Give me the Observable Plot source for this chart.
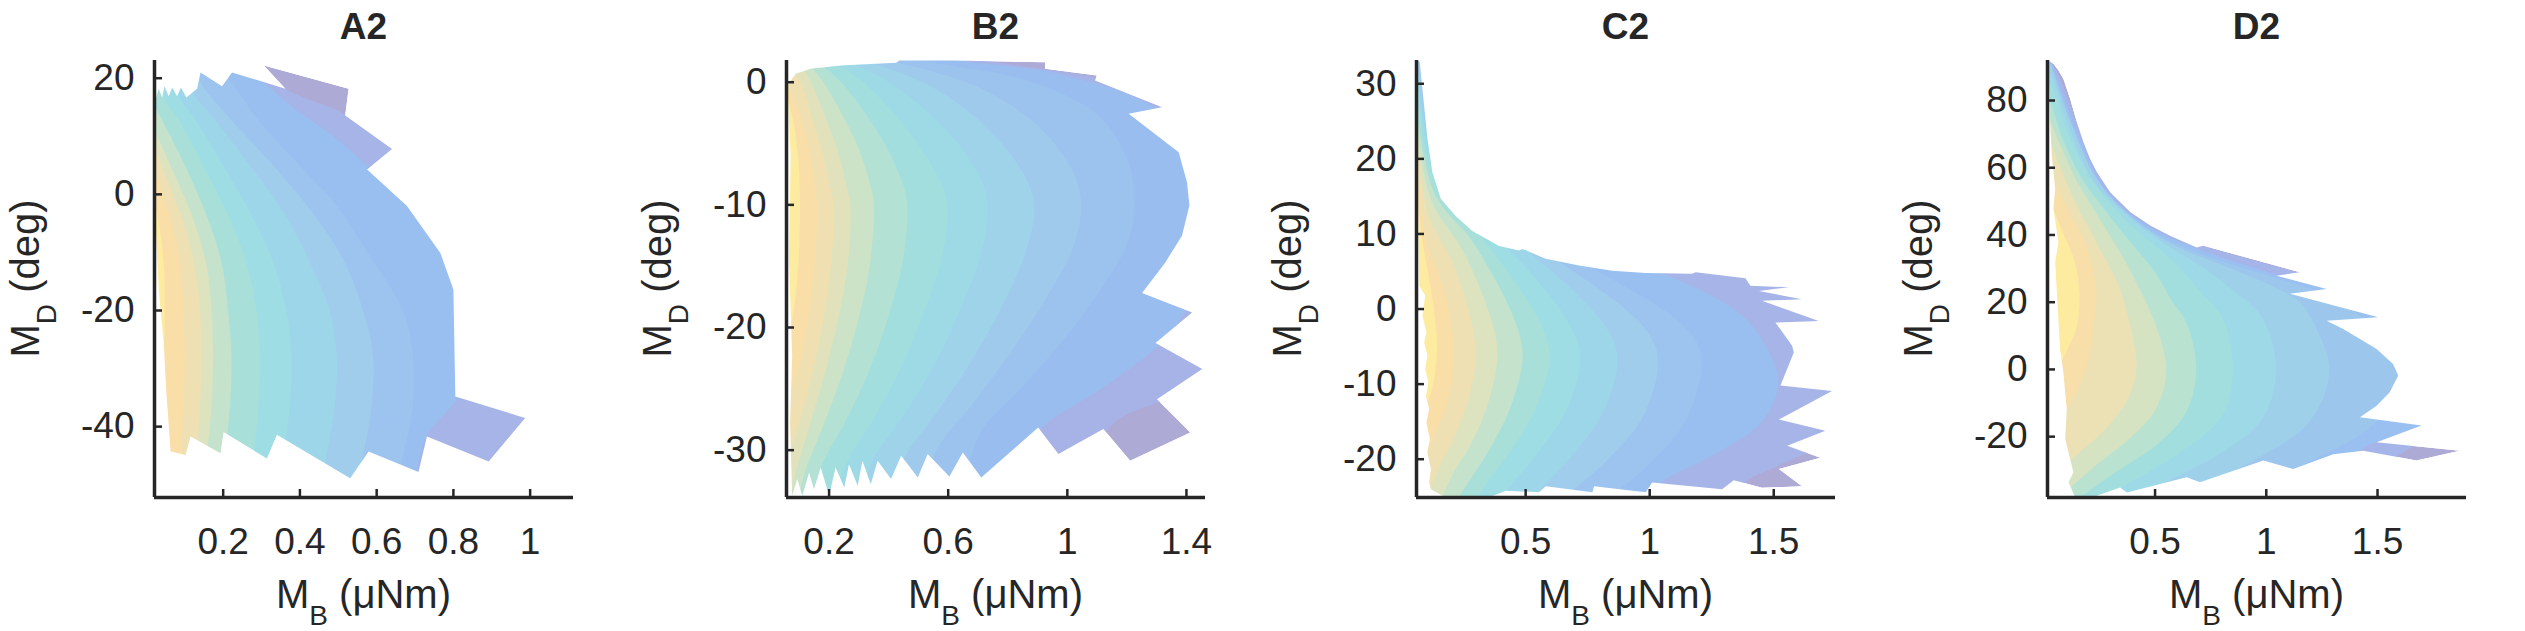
<!DOCTYPE html>
<html><head><meta charset="utf-8">
<script src="https://cdn.jsdelivr.net/npm/d3@7"></script>
<script src="https://cdn.jsdelivr.net/npm/@observablehq/plot@0.6"></script>
<style>
html,body{margin:0;padding:0;background:#fff;}
#wrap{position:relative;width:2525px;height:631px;overflow:hidden;font-family:"Liberation Sans",Arial,sans-serif;}
#wrap > svg{position:absolute;top:0;}
</style></head><body><div id="wrap"></div>
<script>
// ---------------- DATA (M_B in µNm, M_D in deg) ----------------
const titles = ["A2", "B2", "C2", "D2"];

const A2_xDomain = [0.021, 1.113], A2_yDomain = [-52.2, 23.05];
const A2_xTicks = [0.2, 0.4, 0.6, 0.8, 1], A2_yTicks = [-40, -20, 0, 20];
const A2_outline = [[0.022,15.9],[0.032,18.2],[0.041,16.7],[0.047,18.6],[0.058,16.9],[0.067,18.4],[0.080,16.9],[0.090,18.4],[0.104,16.7],[0.132,18.2],[0.141,21.0],[0.197,18.6],[0.223,21.0],[0.362,18.2],[0.306,22.2],[0.527,18.2],[0.518,13.6],[0.640,7.8],[0.575,4.3],[0.679,-2.0],[0.766,-10.1],[0.800,-16.4],[0.805,-34.8],[0.987,-38.5],[0.892,-46.0],[0.731,-41.7],[0.709,-47.8],[0.579,-44.3],[0.531,-48.9],[0.340,-41.4],[0.314,-45.5],[0.201,-40.9],[0.193,-44.6],[0.115,-41.7],[0.102,-44.9],[0.063,-44.3],[0.052,-34.2],[0.045,-25.6],[0.032,-16.4],[0.022,-2.6]];
const A2_contours = [
 [[0.271,23.9],[0.362,18.2],[0.523,13.6],[0.670,6.6],[0.809,-4.9],[0.896,-22.1],[0.965,-33.7],[1.026,-39.4],[1.026,-53.2]],
 [[0.227,23.9],[0.375,15.3],[0.497,9.5],[0.583,4.3],[0.692,-3.1],[0.818,-16.4],[0.822,-33.7],[0.731,-41.7],[0.705,-48.0],[0.688,-53.2]],
 [[0.175,23.9],[0.210,20.5],[0.297,12.4],[0.401,4.9],[0.497,-2.0],[0.583,-10.6],[0.670,-20.1],[0.696,-27.9],[0.696,-36.5],[0.670,-45.2],[0.644,-53.2]],
 [[0.115,23.9],[0.141,19.3],[0.227,12.4],[0.332,4.9],[0.427,-2.6],[0.514,-11.2],[0.566,-20.1],[0.592,-27.9],[0.588,-36.5],[0.566,-45.2],[0.540,-53.2]],
 [[0.089,23.9],[0.115,18.2],[0.184,12.4],[0.271,4.9],[0.358,-3.1],[0.427,-11.8],[0.479,-20.1],[0.497,-27.9],[0.492,-36.5],[0.470,-45.2],[0.444,-53.2]],
 [[0.063,23.9],[0.080,17.6],[0.132,12.4],[0.201,4.9],[0.271,-3.1],[0.332,-11.8],[0.366,-20.1],[0.379,-27.9],[0.375,-36.5],[0.358,-45.2],[0.340,-53.2]],
 [[0.036,23.9],[0.045,17.0],[0.089,12.4],[0.149,4.9],[0.210,-3.1],[0.262,-11.8],[0.288,-20.1],[0.297,-27.9],[0.293,-36.5],[0.280,-45.2],[0.262,-53.2]],
 [[0.021,15.3],[0.054,11.2],[0.106,4.3],[0.158,-3.7],[0.197,-11.8],[0.214,-20.1],[0.223,-27.9],[0.219,-36.5],[0.206,-45.2],[0.193,-53.2]],
 [[0.021,11.2],[0.071,3.8],[0.123,-4.3],[0.158,-12.4],[0.171,-20.1],[0.175,-27.9],[0.171,-36.5],[0.158,-45.2],[0.149,-53.2]],
 [[0.021,8.9],[0.054,2.6],[0.097,-4.9],[0.128,-12.9],[0.141,-20.1],[0.145,-27.9],[0.141,-36.5],[0.132,-45.2],[0.123,-53.2]],
 [[0.021,5.5],[0.045,-0.3],[0.076,-7.2],[0.093,-14.1],[0.097,-20.1],[0.102,-27.9],[0.097,-36.5],[0.093,-45.2],[0.089,-53.2]],
 [[0.021,-0.3],[0.036,-6.0],[0.047,-12.9],[0.049,-20.1],[0.047,-26.7],[0.036,-32.5],[0.021,-37.1]]
];

const B2_xDomain = [0.057, 1.464], B2_yDomain = [-33.86, 1.77];
const B2_xTicks = [0.2, 0.6, 1, 1.4], B2_yTicks = [-30, -20, -10, 0];
const B2_outline = [[0.060,-0.27],[0.088,0.68],[0.138,1.09],[0.239,1.36],[0.425,1.58],[0.436,1.77],[0.616,1.77],[0.925,1.63],[0.925,1.09],[1.099,0.54],[1.093,0.14],[1.318,-2.04],[1.206,-2.58],[1.374,-5.71],[1.402,-8.16],[1.410,-10.06],[1.385,-12.51],[1.329,-14.69],[1.251,-17.19],[1.419,-18.77],[1.296,-21.27],[1.453,-23.39],[1.301,-25.84],[1.413,-28.56],[1.211,-30.87],[1.121,-28.28],[0.970,-30.32],[0.902,-28.15],[0.711,-32.23],[0.649,-30.19],[0.604,-32.15],[0.531,-30.32],[0.498,-32.23],[0.442,-30.46],[0.408,-32.36],[0.363,-30.87],[0.340,-32.77],[0.312,-30.87],[0.296,-32.91],[0.267,-31.14],[0.251,-33.04],[0.222,-31.41],[0.200,-33.72],[0.172,-31.41],[0.149,-33.18],[0.133,-31.82],[0.110,-33.72],[0.093,-32.36],[0.076,-33.72],[0.069,-27.74],[0.076,-22.30],[0.065,-14.14],[0.071,-5.98]];
const B2_contours = [
 [[0.576,2.18],[0.824,1.36],[1.104,0.27],[1.442,-2.45],[1.554,-11.42],[1.543,-22.30],[1.385,-25.29],[1.161,-27.74],[1.093,-30.46],[1.071,-34.27]],
 [[0.487,2.18],[0.711,1.50],[0.992,0.54],[1.329,-2.72],[1.464,-8.70],[1.464,-15.50],[1.329,-20.94],[1.116,-25.02],[0.925,-28.01],[0.824,-31.00],[0.779,-34.27]],
 [[0.374,2.18],[0.599,1.36],[0.880,0.00],[1.104,-2.72],[1.206,-6.53],[1.228,-10.06],[1.206,-13.05],[1.116,-16.86],[0.992,-20.94],[0.846,-25.02],[0.711,-28.56],[0.644,-34.27]],
 [[0.296,2.18],[0.487,1.22],[0.711,-0.54],[0.913,-3.81],[1.026,-7.62],[1.048,-10.06],[1.024,-13.33],[0.930,-17.68],[0.812,-22.03],[0.689,-26.11],[0.565,-29.92],[0.509,-34.27]],
 [[0.239,2.18],[0.397,1.09],[0.576,-0.82],[0.745,-4.08],[0.857,-7.62],[0.891,-10.06],[0.866,-13.60],[0.784,-18.22],[0.678,-22.84],[0.565,-26.92],[0.453,-30.73],[0.408,-34.27]],
 [[0.194,2.18],[0.318,1.09],[0.464,-1.09],[0.610,-4.35],[0.711,-7.89],[0.734,-10.06],[0.714,-13.87],[0.644,-18.49],[0.554,-23.12],[0.453,-27.20],[0.346,-31.00],[0.307,-34.27]],
 [[0.149,2.18],[0.262,0.95],[0.374,-1.36],[0.487,-4.62],[0.576,-8.16],[0.599,-10.06],[0.582,-14.14],[0.520,-18.77],[0.442,-23.39],[0.352,-27.47],[0.256,-31.28],[0.217,-34.27]],
 [[0.116,2.18],[0.206,0.82],[0.296,-1.63],[0.385,-4.90],[0.447,-8.16],[0.464,-10.06],[0.451,-14.41],[0.402,-19.04],[0.335,-23.66],[0.256,-27.74],[0.172,-31.55],[0.144,-34.27]],
 [[0.088,2.18],[0.161,0.68],[0.228,-1.90],[0.296,-5.17],[0.340,-8.43],[0.352,-10.06],[0.340,-14.69],[0.301,-19.31],[0.245,-23.93],[0.183,-28.01],[0.121,-31.82],[0.099,-34.27]],
 [[0.071,2.18],[0.127,0.54],[0.178,-2.18],[0.228,-5.44],[0.262,-8.70],[0.273,-10.06],[0.264,-14.96],[0.230,-19.58],[0.183,-24.20],[0.133,-28.28],[0.088,-32.09],[0.071,-34.27]],
 [[0.060,1.09],[0.099,0.27],[0.138,-2.45],[0.178,-5.71],[0.206,-8.70],[0.217,-10.06],[0.208,-14.96],[0.181,-19.58],[0.144,-23.93],[0.099,-28.01],[0.060,-31.00]],
 [[0.060,0.00],[0.104,-2.72],[0.138,-5.98],[0.155,-8.70],[0.161,-10.06],[0.154,-14.69],[0.133,-19.04],[0.104,-22.84],[0.060,-26.65]],
 [[0.060,-1.09],[0.082,-3.26],[0.099,-6.53],[0.104,-10.06],[0.099,-14.69],[0.084,-18.49],[0.060,-21.76]]
];

const C2_xDomain = [0.06, 1.749], C2_yDomain = [-25.1, 33.1];
const C2_xTicks = [0.5, 1, 1.5], C2_yTicks = [-20, -10, 0, 10, 20, 30];
const C2_outline = [[0.064,33.1],[0.073,32.9],[0.084,29.3],[0.104,22.7],[0.124,18.2],[0.158,14.7],[0.218,12.4],[0.285,10.4],[0.393,8.4],[0.473,7.8],[0.487,8.0],[0.581,6.7],[0.715,5.8],[0.849,5.1],[0.984,4.8],[1.171,4.7],[1.185,4.9],[1.386,4.1],[1.406,3.1],[1.561,2.9],[1.440,2.4],[1.614,1.3],[1.453,1.1],[1.681,-1.6],[1.507,-1.8],[1.574,-4.9],[1.581,-5.8],[1.527,-10.2],[1.735,-10.9],[1.521,-14.7],[1.708,-16.2],[1.554,-18.2],[1.688,-19.8],[1.521,-21.3],[1.614,-23.6],[1.453,-23.8],[1.339,-22.8],[1.292,-24.0],[1.010,-23.1],[0.984,-24.4],[0.776,-23.6],[0.769,-24.4],[0.581,-23.6],[0.554,-24.4],[0.420,-24.2],[0.366,-24.9],[0.292,-24.9],[0.178,-25.1],[0.118,-24.0],[0.111,-23.1],[0.118,-21.3],[0.104,-19.1],[0.114,-17.3],[0.100,-15.1],[0.111,-13.3],[0.098,-11.6],[0.108,-9.8],[0.095,-8.0],[0.104,-6.2],[0.091,-4.4],[0.100,-3.1],[0.084,-0.9],[0.095,1.8],[0.071,3.1],[0.066,16.0],[0.062,29.3]];
const C2_contours = [
 [[0.178,33.8],[0.581,8.9],[1.386,5.3],[1.722,2.7],[1.789,-10.7],[1.722,-17.3],[1.521,-20.9],[1.386,-23.1],[1.319,-25.8]],
 [[0.124,33.8],[0.339,10.7],[1.051,4.7],[1.373,-0.9],[1.467,-4.9],[1.521,-9.8],[1.453,-15.1],[1.252,-19.6],[1.051,-23.1],[0.984,-25.8]],
 [[0.084,33.8],[0.259,12.4],[0.796,4.9],[1.198,-4.9],[1.158,-14.2],[1.010,-20.4],[0.849,-24.9],[0.809,-25.8]],
 [[0.071,33.8],[0.218,13.8],[0.648,6.0],[1.024,-4.9],[0.984,-13.8],[0.836,-20.0],[0.688,-24.4],[0.648,-25.8]],
 [[0.064,32.0],[0.192,14.7],[0.514,7.6],[0.863,-4.9],[0.822,-13.3],[0.688,-19.6],[0.554,-24.4],[0.514,-25.8]],
 [[0.064,30.2],[0.171,15.1],[0.420,8.4],[0.715,-4.9],[0.675,-12.9],[0.554,-19.1],[0.433,-24.0],[0.393,-25.8]],
 [[0.064,28.0],[0.151,15.6],[0.339,8.9],[0.594,-4.9],[0.554,-12.4],[0.447,-18.7],[0.339,-23.6],[0.299,-25.8]],
 [[0.064,25.8],[0.138,15.1],[0.299,8.4],[0.487,-4.9],[0.453,-12.0],[0.366,-18.2],[0.272,-23.1],[0.218,-25.8]],
 [[0.064,23.6],[0.124,14.2],[0.259,7.1],[0.386,-4.9],[0.359,-11.6],[0.285,-17.8],[0.205,-22.2],[0.158,-25.8]],
 [[0.064,21.3],[0.111,12.4],[0.218,5.3],[0.299,-4.9],[0.279,-11.1],[0.218,-16.9],[0.151,-21.3],[0.104,-25.3]],
 [[0.064,19.1],[0.104,8.9],[0.171,2.7],[0.212,-4.9],[0.198,-10.7],[0.151,-15.6],[0.098,-19.6],[0.064,-21.8]],
 [[0.064,15.1],[0.091,8.0],[0.124,1.8],[0.145,-4.9],[0.131,-9.8],[0.098,-13.3],[0.064,-16.0]]
];

const D2_xDomain = [0.0165, 1.90], D2_yDomain = [-38.1, 91.9];
const D2_xTicks = [0.5, 1, 1.5], D2_yTicks = [-20, 0, 20, 40, 60, 80];
const D2_outline = [[0.021,91.9],[0.043,90.9],[0.066,88.9],[0.088,86.4],[0.118,80.5],[0.148,73.6],[0.178,67.6],[0.208,62.6],[0.238,58.7],[0.298,52.7],[0.388,46.8],[0.478,42.8],[0.567,39.8],[0.687,36.3],[0.717,36.8],[1.151,28.9],[1.046,27.9],[1.271,23.9],[1.106,22.5],[1.503,15.5],[1.271,14.5],[1.346,12.0],[1.496,6.1],[1.570,1.6],[1.593,-1.8],[1.555,-6.8],[1.496,-10.8],[1.421,-14.2],[1.698,-16.7],[1.496,-21.7],[1.870,-24.2],[1.675,-27.1],[1.436,-24.2],[1.301,-25.2],[1.121,-29.6],[0.987,-27.1],[0.702,-33.6],[0.642,-32.1],[0.373,-36.6],[0.343,-35.1],[0.193,-38.6],[0.141,-38.1],[0.111,-33.6],[0.133,-30.6],[0.096,-20.7],[0.103,-11.8],[0.096,-6.8],[0.088,-0.9],[0.073,6.1],[0.051,31.9],[0.066,37.8],[0.043,47.8],[0.051,53.7],[0.036,63.6],[0.028,73.6]];
const D2_contours = [
 [[0.006,93.4],[0.058,88.9],[0.160,72.0],[0.310,53.0],[0.500,42.5],[0.680,37.5],[1.100,29.5],[1.400,24.5],[1.945,14.0],[1.945,-15.7],[1.645,-23.7],[1.346,-39.5]],
 [[0.021,93.4],[0.060,87.0],[0.140,72.5],[0.280,53.0],[0.460,42.8],[0.640,37.0],[0.950,30.0],[1.150,26.0],[1.350,22.5],[1.600,17.0],[1.795,-5.8],[1.720,-18.7],[1.496,-21.7],[1.271,-30.6],[0.972,-39.5]],
 [[0.020,93.4],[0.070,84.0],[0.130,72.0],[0.265,54.0],[0.440,43.0],[0.620,36.5],[0.850,31.0],[1.100,26.0],[1.300,21.0],[1.421,16.0],[1.615,-0.2],[1.496,-15.7],[1.226,-26.6],[0.927,-34.6],[0.672,-39.5]],
 [[0.021,93.4],[0.050,87.0],[0.120,74.0],[0.245,56.0],[0.410,44.5],[0.580,37.0],[0.800,31.0],[1.000,25.5],[1.150,20.0],[1.196,16.0],[1.286,-0.2],[1.196,-15.7],[0.987,-25.7],[0.746,-33.6],[0.493,-39.5]],
 [[0.021,89.4],[0.045,86.0],[0.110,73.0],[0.225,56.0],[0.370,46.0],[0.530,38.0],[0.700,31.0],[0.860,23.0],[0.987,15.0],[1.046,-0.2],[0.987,-14.7],[0.807,-24.7],[0.582,-32.6],[0.358,-39.5]],
 [[0.021,85.5],[0.043,83.5],[0.100,72.0],[0.200,58.0],[0.330,47.0],[0.460,39.0],[0.600,31.0],[0.720,22.0],[0.807,15.0],[0.852,-0.2],[0.807,-13.7],[0.642,-23.7],[0.448,-31.6],[0.253,-38.6]],
 [[0.021,80.5],[0.036,78.5],[0.090,68.0],[0.170,57.0],[0.280,47.0],[0.400,37.0],[0.500,29.0],[0.580,20.0],[0.642,14.0],[0.687,-0.2],[0.642,-12.8],[0.507,-22.7],[0.328,-30.6],[0.178,-37.6]],
 [[0.021,75.5],[0.080,66.0],[0.150,56.0],[0.250,45.0],[0.360,33.0],[0.430,24.0],[0.500,14.0],[0.552,-0.2],[0.507,-11.8],[0.388,-20.7],[0.238,-28.6],[0.118,-35.6]],
 [[0.021,69.6],[0.070,61.0],[0.140,50.0],[0.220,40.0],[0.300,30.0],[0.343,24.0],[0.403,9.1],[0.418,-0.2],[0.373,-9.8],[0.268,-18.7],[0.148,-25.7],[0.058,-31.6]],
 [[0.021,60.7],[0.103,48.7],[0.193,36.8],[0.238,23.9],[0.223,11.1],[0.193,0.1],[0.133,-8.8],[0.058,-15.7],[0.021,-18.7]],
 [[0.021,51.7],[0.081,41.8],[0.141,31.9],[0.163,22.0],[0.148,12.0],[0.103,5.1],[0.058,-0.9],[0.021,-3.8]]
];

// ---------------- STYLE / LAYOUT ----------------
// translucent-parula look, sampled from the figure, lowest level -> highest level
const palette = ["#aeaad6","#a6b4e8","#98bff0","#9cc4ee","#a0cdeb","#9dd6e9","#9ddde3","#a8dfd9","#c5e3cc","#dde3bf","#eee0b3","#f9dea8","#fdeb9f"];
const paletteInterp = d3.piecewise(d3.interpolateRgb, palette);
const INK = "#262626";
const FONT = '"Liberation Sans", Arial, Helvetica, sans-serif';
const W = 609, H = 631, ML = 150, MR = 40, MT = 60, MB = 134;
const FW = W - ML - MR, FH = H - MT - MB;

const panels = [
  {title: titles[0], left: 4,    xDomain: A2_xDomain, yDomain: A2_yDomain, xTicks: A2_xTicks, yTicks: A2_yTicks, outline: A2_outline, contours: A2_contours},
  {title: titles[1], left: 636,  xDomain: B2_xDomain, yDomain: B2_yDomain, xTicks: B2_xTicks, yTicks: B2_yTicks, outline: B2_outline, contours: B2_contours},
  {title: titles[2], left: 1266, xDomain: C2_xDomain, yDomain: C2_yDomain, xTicks: C2_xTicks, yTicks: C2_yTicks, outline: C2_outline, contours: C2_contours},
  {title: titles[3], left: 1897, xDomain: D2_xDomain, yDomain: D2_yDomain, xTicks: D2_xTicks, yTicks: D2_yTicks, outline: D2_outline, contours: D2_contours}
];

function closed(pts) { return pts.concat([pts[0]]); }
function maskPoints(xd, yd, outline) {
  const dx = (xd[1] - xd[0]) * 0.05, dy = (yd[1] - yd[0]) * 0.05;
  const x0 = xd[0] - dx, x1 = xd[1] + dx, y0 = yd[0] - dy, y1 = yd[1] + dy;
  const rect = [[x0, y1], [x1, y1], [x1, y0], [x0, y0], [x0, y1]];
  const ring = outline.slice().reverse();
  ring.push(ring[0]);
  return rect.concat(ring);
}

const wrap = document.getElementById("wrap");
for (const p of panels) {
  const L = p.contours.length + 1;
  const colors = d3.range(L).map(i => d3.color(paletteInterp(i / (L - 1))).formatHex());
  const marks = [];
  marks.push(Plot.line(closed(p.outline), {x: d => d[0], y: d => d[1], fill: () => 0, stroke: "none", clip: true}));
  p.contours.forEach((c, k) => {
    marks.push(Plot.areaX(c, {y: d => d[1], x1: p.xDomain[0], x2: d => d[0], fill: () => k + 1, curve: "catmull-rom", clip: true}));
  });
  marks.push(Plot.line(maskPoints(p.xDomain, p.yDomain, p.outline), {x: d => d[0], y: d => d[1], fill: "white", stroke: "none"}));
  marks.push(Plot.tickX(p.xTicks, {x: d => d, insetTop: FH - 8, stroke: INK, strokeWidth: 2.5}));
  marks.push(Plot.tickY(p.yTicks, {y: d => d, insetRight: FW - 8, stroke: INK, strokeWidth: 2.5}));
  marks.push(Plot.ruleX([p.xDomain[0]], {stroke: INK, strokeWidth: 3.5}));
  marks.push(Plot.ruleY([p.yDomain[0]], {stroke: INK, strokeWidth: 3.5}));
  marks.push(Plot.axisX({ticks: p.xTicks, tickSize: 0, tickPadding: 30, fontSize: 37, tickFormat: d => String(d), label: null}));
  marks.push(Plot.axisY({ticks: p.yTicks, tickSize: 0, tickPadding: 20, fontSize: 37, tickFormat: d => String(d), label: null}));
  const chart = Plot.plot({
    width: W, height: H, marginLeft: ML, marginRight: MR, marginTop: MT, marginBottom: MB,
    x: {domain: p.xDomain},
    y: {domain: p.yDomain},
    color: {type: "ordinal", domain: d3.range(L), range: colors},
    style: {fontFamily: FONT, color: INK, background: "white"},
    marks
  });
  chart.style.left = p.left + "px";
  wrap.appendChild(chart);
}

// titles and axis labels (with subscripts) as an overlay
const ov = d3.select(wrap).append("svg")
  .attr("width", 2525).attr("height", 631)
  .style("left", "0px").style("pointer-events", "none")
  .attr("font-family", FONT).attr("fill", INK);
for (const p of panels) {
  const cx = p.left + ML + FW / 2, cy = MT + FH / 2;
  ov.append("text").attr("x", cx).attr("y", 39).attr("text-anchor", "middle")
    .attr("font-size", 37).attr("font-weight", "bold").text(p.title);
  const xl = ov.append("text").attr("x", cx).attr("y", 608).attr("text-anchor", "middle").attr("font-size", 40);
  xl.append("tspan").text("M");
  xl.append("tspan").attr("font-size", 28).attr("dy", 17).text("B");
  xl.append("tspan").attr("dy", -17).text("\u00a0(\u03bcNm)");
  const yl = ov.append("text").attr("transform", `translate(${p.left + 35},${cy}) rotate(-90)`)
    .attr("text-anchor", "middle").attr("font-size", 40);
  yl.append("tspan").text("M");
  yl.append("tspan").attr("font-size", 28).attr("dy", 17).text("D");
  yl.append("tspan").attr("dy", -17).text("\u00a0(deg)");
}
</script></body></html>
